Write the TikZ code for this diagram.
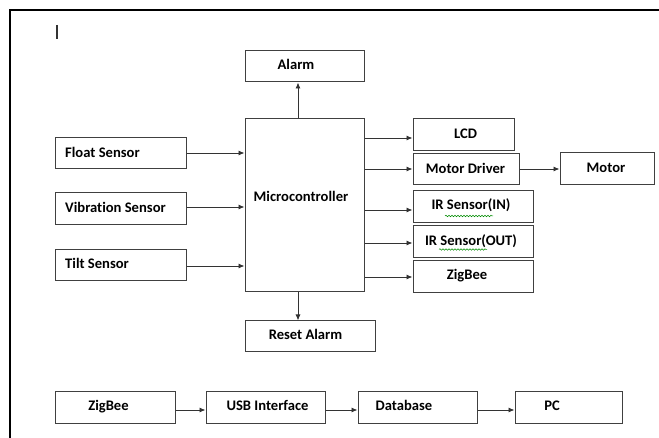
\documentclass[tikz,border=0pt]{standalone}
\usepackage{fontspec}
\setmainfont{Carlito}[Ligatures={NoCommon}]
\usetikzlibrary{arrows.meta,decorations.pathmorphing}
\tikzset{
  box/.style={draw=black!75, line width=1pt, rectangle, inner sep=0pt},
  lbl/.style={font=\fontsize{14.6}{17}\selectfont\bfseries, inner sep=0pt, text height=9.4pt, text depth=0pt, anchor=center},
  conn/.style={draw=black!80, line width=0.9pt, -{Latex[length=6pt,width=5pt]}},
  squig/.style={draw=green!55!black, line width=0.5pt, decorate, decoration={snake, amplitude=0.8pt, segment length=3pt}},
  frameline/.style={draw=black, line width=2pt}
}
\newcommand{\bx}[5]{% name, x1, y1, x2, y2
  \node[box, minimum width={(#4-#2)*1pt}, minimum height={(#5-#3)*1pt}] (#1) at ({(#2+#4)/2},{(#3+#5)/2}) {};}
\begin{document}
\begin{tikzpicture}[x=1pt,y=-1pt]
\useasboundingbox (0,0) rectangle (659,438);
% frame
\coordinate (ftr) at (659,10);
\coordinate (ftl) at (10,10);
\coordinate (fbl) at (10,438);
\draw[frameline] (ftr) -- (ftl) -- (fbl);
% cursor
\coordinate (cur1) at (57,25);
\coordinate (cur2) at (57,39);
\draw[line width=1.3pt, black!80] (cur1) -- (cur2);
% boxes
\bx{alarm}{245}{51}{364}{82}
\bx{mcu}{245}{119}{364}{292}
\bx{float}{55}{138}{186}{169}
\bx{vib}{55}{193}{186}{225}
\bx{tilt}{55}{250}{186}{281}
\bx{reset}{245}{321}{375}{352}
\bx{lcd}{413}{119}{514}{151}
\bx{mdrv}{413}{154}{519}{185}
\bx{motor}{560}{153}{654}{185}
\bx{irin}{413}{191}{533}{223}
\bx{irout}{413}{226}{533}{258}
\bx{zb}{413}{261}{533}{293}
\bx{zb2}{55}{392}{175}{423}
\bx{usb}{206}{392}{325}{423}
\bx{db}{358}{392}{477}{423}
\bx{pc}{515}{392}{622}{423}
% labels
\node[lbl, anchor=west] (tfloat) at (65,153) {Float Sensor};
\node[lbl, anchor=west] (tvib) at (65,208) {Vibration Sensor};
\node[lbl, anchor=west] (ttilt) at (65,264) {Tilt Sensor};
\node[lbl] (talarm) at (296,65) {Alarm};
\node[lbl] (tmcu) at (301,197) {Microcontroller};
\node[lbl] (treset) at (305.5,335) {Reset Alarm};
\node[lbl] (tlcd) at (465.5,134) {LCD};
\node[lbl] (tmdrv) at (465.5,169) {Motor Driver};
\node[lbl] (tmotor) at (606,168) {Motor};
\node[lbl] (tirin) at (471,205) {IR Sensor(IN)};
\node[lbl] (tirout) at (471,241) {IR Sensor(OUT)};
\node[lbl] (tzb) at (467,275) {ZigBee};
\node[lbl] (tzb2) at (108.5,406) {ZigBee};
\node[lbl] (tusb) at (267.5,406) {USB Interface};
\node[lbl] (tdb) at (404,406) {Database};
\node[lbl] (tpc) at (552,406) {PC};
% spell-check squiggles
\coordinate (s1a) at (445,216); \coordinate (s1b) at (493,216);
\coordinate (s2a) at (439,249.5); \coordinate (s2b) at (487,249.5);
\draw[squig] (s1a) -- (s1b);
\draw[squig] (s2a) -- (s2b);
% connectors
\draw[conn] (float.east |- 0,153) -- (mcu.west |- 0,153);
\draw[conn] (vib.east |- 0,207) -- (mcu.west |- 0,207);
\draw[conn] (tilt.east |- 0,266) -- (mcu.west |- 0,266);
\draw[conn] (mcu.north -| 298,0) -- (alarm.south -| 298,0);
\draw[conn] (mcu.south -| 298,0) -- (reset.north -| 298,0);
\draw[conn] (mcu.east |- 0,138) -- (lcd.west |- 0,138);
\draw[conn] (mcu.east |- 0,169) -- (mdrv.west |- 0,169);
\draw[conn] (mdrv.east |- 0,169) -- (motor.west |- 0,169);
\draw[conn] (mcu.east |- 0,210) -- (irin.west |- 0,210);
\draw[conn] (mcu.east |- 0,243) -- (irout.west |- 0,243);
\draw[conn] (mcu.east |- 0,277) -- (zb.west |- 0,277);
\draw[conn] (zb2.east |- 0,410) -- (usb.west |- 0,410);
\draw[conn] (usb.east |- 0,410) -- (db.west |- 0,410);
\draw[conn] (db.east |- 0,410) -- (pc.west |- 0,410);
\end{tikzpicture}
\end{document}
